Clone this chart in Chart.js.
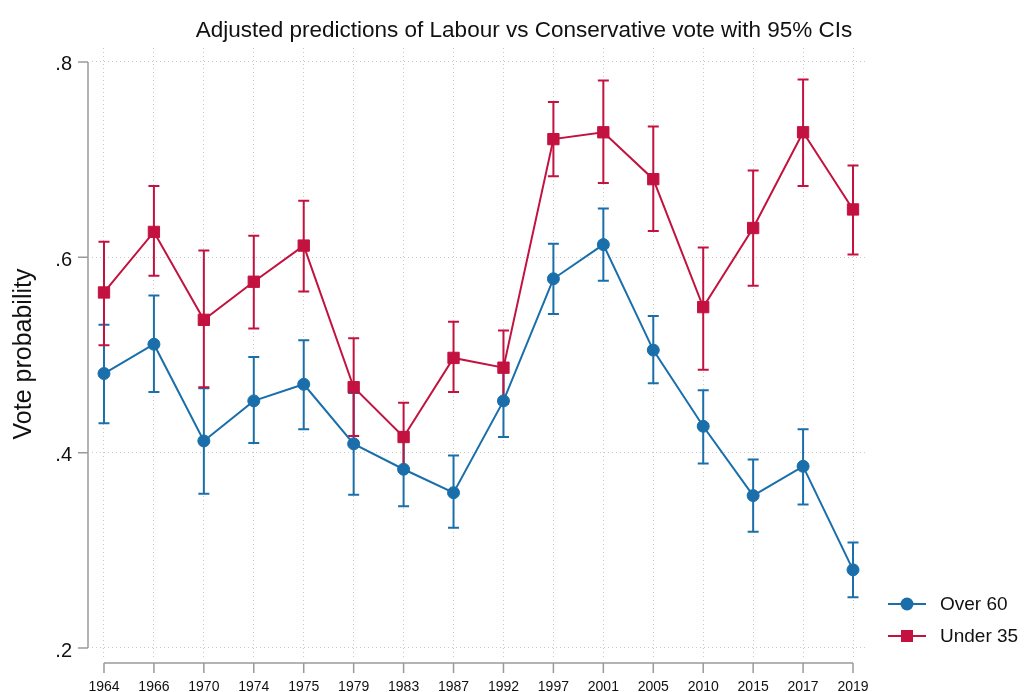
<!DOCTYPE html>
<html lang="en">
<head>
<meta charset="UTF-8">
<title>Labour vs Conservative vote by age</title>
<script src="https://cdn.jsdelivr.net/npm/chart.js"></script>
<style>
  html, body { margin: 0; padding: 0; background: #fff; }
  canvas { display: block; }
</style>
</head>
<body>
<canvas id="votes" width="1025" height="692"></canvas>
<script>
// election years and predicted vote probabilities with 95% CIs
const years = ['1964', '1966', '1970', '1974', '1975', '1979', '1983', '1987', '1992', '1997', '2001', '2005', '2010', '2015', '2017', '2019'];

const over60   = [0.481, 0.511, 0.412, 0.453, 0.470, 0.409, 0.383, 0.359, 0.453, 0.578, 0.613, 0.505, 0.427, 0.356, 0.386, 0.280];
const over60Lo = [0.430, 0.462, 0.358, 0.410, 0.424, 0.357, 0.345, 0.323, 0.416, 0.542, 0.576, 0.471, 0.389, 0.319, 0.347, 0.252];
const over60Hi = [0.531, 0.561, 0.466, 0.498, 0.515, 0.461, 0.421, 0.397, 0.490, 0.614, 0.650, 0.540, 0.464, 0.393, 0.424, 0.308];

const under35   = [0.564, 0.626, 0.536, 0.575, 0.612, 0.467, 0.416, 0.497, 0.487, 0.721, 0.728, 0.680, 0.549, 0.630, 0.728, 0.649];
const under35Lo = [0.510, 0.581, 0.467, 0.527, 0.565, 0.417, 0.382, 0.462, 0.450, 0.683, 0.676, 0.627, 0.485, 0.571, 0.673, 0.603];
const under35Hi = [0.616, 0.673, 0.607, 0.622, 0.658, 0.517, 0.451, 0.534, 0.525, 0.759, 0.781, 0.734, 0.610, 0.689, 0.782, 0.694];

const yTicks = [0.2, 0.4, 0.6, 0.8];

const BLUE = '#1a6fab';
const RED = '#c3123f';
const AXIS = '#9a9a9a';
const FONT = '"Liberation Sans", Arial, sans-serif';

const toPoints = arr => arr.map((v, i) => ({ x: i, y: v }));

// CI caps, stata-style axes, title and legend
const stataFrame = {
    id: 'stataFrame',
    beforeDatasetsDraw(chart) {
        const { ctx, scales: { x, y } } = chart;
        chart.data.datasets.forEach(ds => {
            ctx.save();
            ctx.strokeStyle = ds.borderColor;
            ctx.lineWidth = 2;
            ds.lo.forEach((lo, i) => {
                const px = x.getPixelForValue(i);
                const top = y.getPixelForValue(ds.hi[i]);
                const bot = y.getPixelForValue(lo);
                ctx.beginPath();
                ctx.moveTo(px, top); ctx.lineTo(px, bot);
                ctx.moveTo(px - 5.5, top); ctx.lineTo(px + 5.5, top);
                ctx.moveTo(px - 5.5, bot); ctx.lineTo(px + 5.5, bot);
                ctx.stroke();
            });
            ctx.restore();
        });
    },
    afterDraw(chart) {
        const { ctx, chartArea, scales: { x, y } } = chart;
        ctx.save();

        // axis lines with outside ticks
        ctx.strokeStyle = AXIS;
        ctx.lineWidth = 1.5;
        ctx.beginPath();
        const ax = chartArea.left - 4;
        ctx.moveTo(ax, y.getPixelForValue(yTicks[yTicks.length - 1]));
        ctx.lineTo(ax, y.getPixelForValue(yTicks[0]));
        yTicks.forEach(v => {
            const py = y.getPixelForValue(v);
            ctx.moveTo(ax - 10, py); ctx.lineTo(ax, py);
        });
        const ay = chartArea.bottom + 3;
        ctx.moveTo(x.getPixelForValue(0), ay);
        ctx.lineTo(x.getPixelForValue(years.length - 1), ay);
        years.forEach((_, i) => {
            const px = x.getPixelForValue(i);
            ctx.moveTo(px, ay); ctx.lineTo(px, ay + 10);
        });
        ctx.stroke();

        // title
        ctx.fillStyle = '#111';
        ctx.font = '22.5px ' + FONT;
        ctx.textAlign = 'center';
        ctx.textBaseline = 'alphabetic';
        ctx.fillText('Adjusted predictions of Labour vs Conservative vote with 95% CIs', 524, 37);

        // legend
        const rows = [604, 636];
        ctx.font = '19px ' + FONT;
        ctx.textAlign = 'left';
        ctx.textBaseline = 'middle';
        chart.data.datasets.forEach((ds, k) => {
            const ly = rows[k];
            ctx.strokeStyle = ds.borderColor;
            ctx.fillStyle = ds.borderColor;
            ctx.lineWidth = 2;
            ctx.beginPath();
            ctx.moveTo(888, ly); ctx.lineTo(926, ly);
            ctx.stroke();
            ctx.beginPath();
            if (ds.pointStyle === 'rect') {
                ctx.rect(907 - 6, ly - 6, 12, 12);
            } else {
                ctx.arc(907, ly, 6.5, 0, Math.PI * 2);
            }
            ctx.fill();
            ctx.fillStyle = '#111';
            ctx.fillText(ds.label, 940, ly + 1);
        });
        ctx.restore();
    }
};

const ctx = document.getElementById('votes').getContext('2d');
new Chart(ctx, {
    type: 'line',
    data: {
        datasets: [{
            label: 'Over 60',
            data: toPoints(over60),
            lo: over60Lo,
            hi: over60Hi,
            borderColor: BLUE,
            backgroundColor: BLUE,
            borderWidth: 2,
            pointStyle: 'circle',
            pointRadius: 6,
            pointBorderWidth: 1,
            tension: 0,
            order: 1
        }, {
            label: 'Under 35',
            data: toPoints(under35),
            lo: under35Lo,
            hi: under35Hi,
            borderColor: RED,
            backgroundColor: RED,
            borderWidth: 2,
            pointStyle: 'rect',
            pointRadius: 8,
            pointBorderWidth: 1,
            tension: 0,
            order: 0
        }]
    },
    options: {
        responsive: false,
        animation: false,
        devicePixelRatio: 1,
        events: [],
        layout: { padding: { top: 48, right: 159, bottom: 0, left: 0 } },
        plugins: {
            legend: { display: false },
            tooltip: { enabled: false },
            title: { display: false }
        },
        scales: {
            x: {
                type: 'linear',
                min: -0.24,
                max: 15.26,
                afterBuildTicks: s => { s.ticks = years.map((_, i) => ({ value: i })); },
                afterFit: s => { s.height = 32; },
                grid: { color: '#c8c8c8', lineWidth: 1, drawTicks: false },
                border: { display: false, dash: [1, 3] },
                ticks: {
                    autoSkip: false,
                    maxRotation: 0,
                    padding: 19,
                    color: '#111',
                    font: { family: FONT, size: 14 },
                    callback: v => years[v]
                }
            },
            y: {
                min: 0.1877,
                max: 0.8143,
                afterBuildTicks: s => { s.ticks = yTicks.map(v => ({ value: v })); },
                afterFit: s => { s.width = 92; },
                grid: { color: '#c8c8c8', lineWidth: 1, drawTicks: false },
                border: { display: false, dash: [1, 3] },
                ticks: {
                    padding: 20,
                    labelOffset: 3,
                    color: '#111',
                    font: { family: FONT, size: 20 },
                    callback: v => String(v).replace(/^0/, '')
                },
                title: {
                    display: true,
                    text: 'Vote probability',
                    color: '#111',
                    font: { family: FONT, size: 25 },
                    padding: { top: 9, bottom: 0 }
                }
            }
        }
    },
    plugins: [stataFrame]
});
</script>
</body>
</html>
